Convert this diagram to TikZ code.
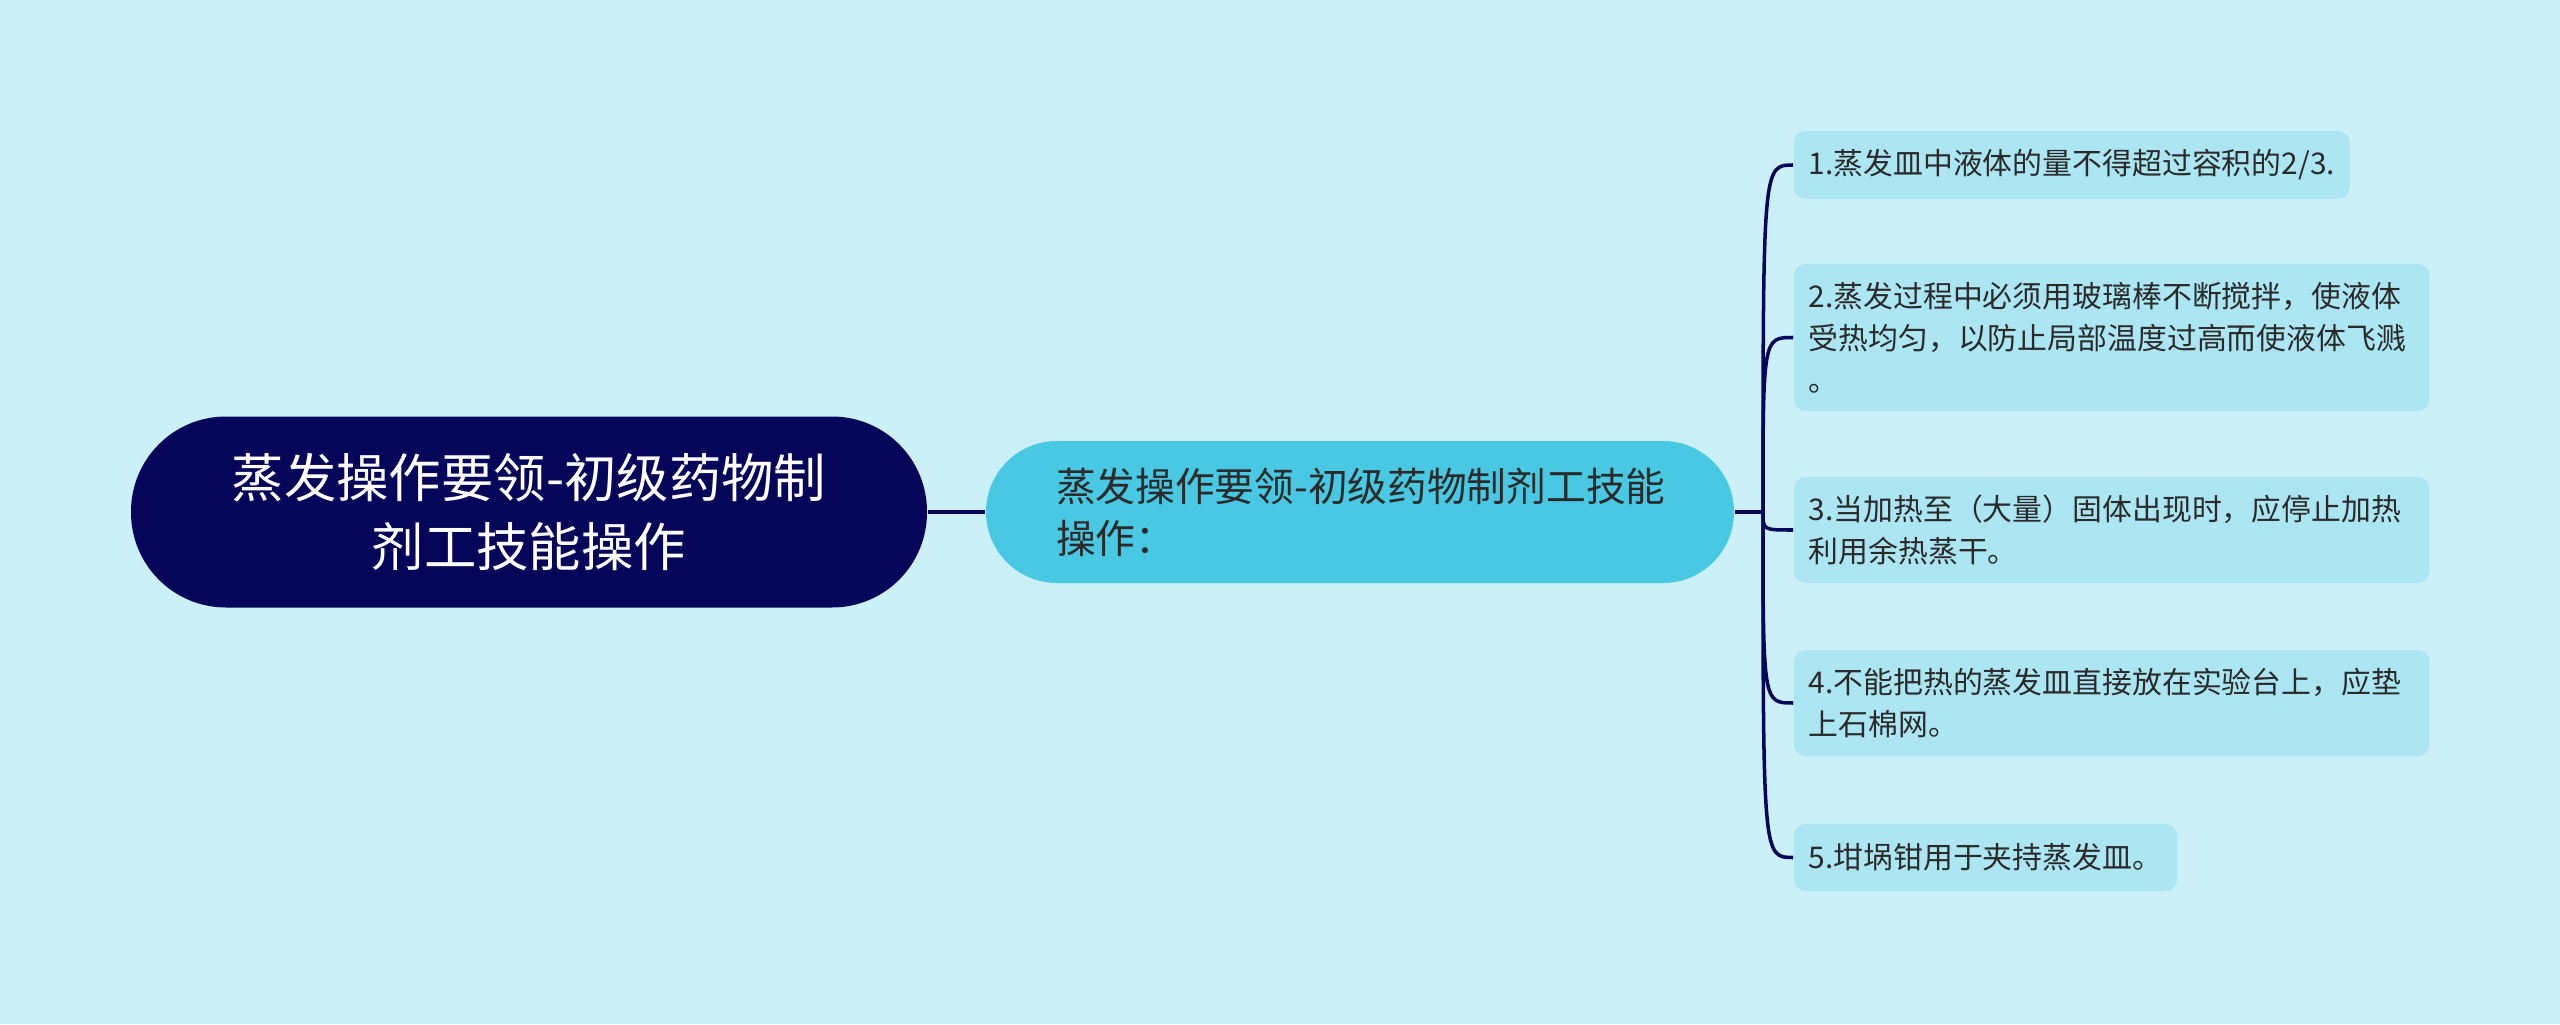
\documentclass[tikz,border=0pt]{standalone}
\usepackage{fontspec}
\setmainfont{Noto Sans CJK SC}
\definecolor{bgcol}{HTML}{CBF0F8}
\definecolor{navy}{HTML}{05055A}
\definecolor{maincol}{HTML}{48C8E2}
\definecolor{leafcol}{HTML}{ACE6F3}
\definecolor{txtcol}{HTML}{2A2A2A}

\begin{document}
\begin{tikzpicture}[
	rootbox/.style={fill=navy, text=white, rounded corners=0.95cm, minimum width=7.96cm, minimum height=1.91cm, align=center, font=\fontsize{14.9pt}{19.6pt}\selectfont},
	mainbox/.style={fill=maincol, text=txtcol, rounded corners=0.71cm, text width=6.08cm, inner xsep=0.7cm, minimum height=1.42cm, align=left, font=\fontsize{11.3pt}{14.8pt}\selectfont},
	leafbox/.style={fill=leafcol, text=txtcol, rounded corners=0.12cm, inner xsep=0.15cm, anchor=west, align=left, font=\fontsize{8.5pt}{12pt}\selectfont},
	link/.style={draw=navy, line width=1pt}]
	\fill[bgcol] (0,0) rectangle (25.6,10.24);
	\useasboundingbox (0,0) rectangle (25.6,10.24);

	\node[rootbox] (root) at (5.29,5.12) {蒸发操作要领-初级药物制\\剂工技能操作};
	\node[mainbox] (main) at (13.6,5.12) {\mbox{蒸发操作要领-初级药物制剂工技能}\\操作：};
	\coordinate (jn) at (17.63,5.12);

	\node[leafbox, minimum height=0.68cm] (l1) at (17.93,8.59) {1.蒸发皿中液体的量不得超过容积的2/3.};
	\node[leafbox, minimum height=1.47cm, text width=6.06cm] (l2) at (17.93,6.865) {2.蒸发过程中必须用玻璃棒不断搅拌，使液体\\受热均匀，以防止局部温度过高而使液体飞溅\\。};
	\node[leafbox, minimum height=1.06cm, text width=6.06cm] (l3) at (17.93,4.94) {3.当加热至（大量）固体出现时，应停止加热\\利用余热蒸干。};
	\node[leafbox, minimum height=1.06cm, text width=6.06cm] (l4) at (17.93,3.21) {4.不能把热的蒸发皿直接放在实验台上，应垫\\上石棉网。};
	\node[leafbox, minimum height=0.67cm] (l5) at (17.93,1.665) {5.坩埚钳用于夹持蒸发皿。};

	\draw[link] (root) -- (main);
	\draw[link] (main) -- (jn);
	\foreach \n in {l1,l2,l3,l4,l5}
		\draw[link] (jn) .. controls (jn |- \n.west) .. (\n.west);
\end{tikzpicture}
\end{document}
